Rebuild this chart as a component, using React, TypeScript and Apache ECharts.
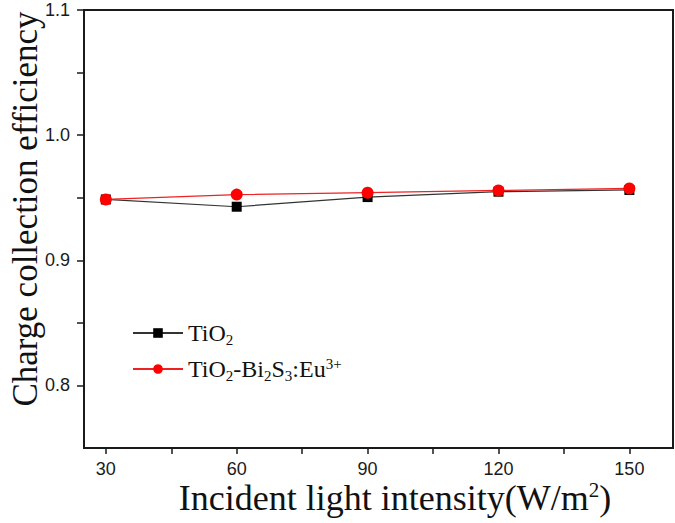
import React, { useEffect, useRef } from "react";
import * as echarts from "echarts";

const intensities = [30, 60, 90, 120, 150];
const tio2 = [0.9486, 0.9428, 0.9505, 0.9548, 0.9562];
const tio2Bi2S3Eu = [0.9486, 0.9525, 0.954, 0.9558, 0.9574];
const xTicks = [30, 45, 60, 75, 90, 105, 120, 135, 150];
const xLabels = [30, 60, 90, 120, 150];
const yTicks = [0.8, 0.85, 0.9, 0.95, 1.0, 1.05, 1.1];
const yLabels = [0.8, 0.9, 1.0, 1.1];

export default function App() {
  const ref = useRef<HTMLDivElement>(null);
  useEffect(() => {
    if (!ref.current) return;
    const chart = echarts.init(ref.current, null, { renderer: "svg" });
    const serif = "Liberation Serif, Times New Roman, serif";
    const sans = "Liberation Sans, Arial, sans-serif";
    const richText = {
      a: { fontFamily: serif, fontSize: 24, color: "#111", lineHeight: 28 },
      s: { fontFamily: serif, fontSize: 15, color: "#111", padding: [13, 0, 0, 0] },
      p: { fontFamily: serif, fontSize: 15, color: "#111", padding: [0, 0, 11, 0] },
    };
    chart.setOption({
      animation: false,
      backgroundColor: "#fff",
      textStyle: { fontFamily: serif },
      grid: {
        left: 84,
        top: 10,
        right: 2,
        bottom: 75,
        show: true,
        borderColor: "#1a1a1a",
        borderWidth: 2,
        backgroundColor: "transparent",
      },
      xAxis: {
        type: "value",
        min: 25,
        max: 160,
        axisLine: { show: true, onZero: false, lineStyle: { color: "#1a1a1a", width: 2 } },
        axisTick: {
          show: true,
          length: 6,
          customValues: xTicks,
          lineStyle: { color: "#1a1a1a", width: 1.5 },
        },
        axisLabel: {
          customValues: xLabels,
          fontFamily: sans,
          fontSize: 18,
          color: "#1a1a1a",
          margin: 12,
        },
        splitLine: { show: false },
      },
      yAxis: {
        type: "value",
        min: 0.75,
        max: 1.1,
        axisLine: { show: true, onZero: false, lineStyle: { color: "#1a1a1a", width: 2 } },
        axisTick: {
          show: true,
          length: 7,
          customValues: yTicks,
          lineStyle: { color: "#1a1a1a", width: 1.5 },
        },
        axisLabel: {
          customValues: yLabels,
          formatter: (v: number) => v.toFixed(1),
          fontFamily: sans,
          fontSize: 18,
          color: "#1a1a1a",
          margin: 14,
        },
        splitLine: { show: false },
      },
      legend: {
        orient: "vertical",
        left: 127,
        top: 316,
        itemWidth: 50,
        itemHeight: 12,
        itemGap: 9,
        data: ["TiO2", "TiO2-Bi2S3:Eu3+"],
        formatter: (name: string) =>
          name === "TiO2"
            ? "{a|TiO}{s|2}"
            : "{a|TiO}{s|2}{a|-Bi}{s|2}{a|S}{s|3}{a|:Eu}{p|3+}",
        textStyle: { fontFamily: serif, fontSize: 24, color: "#111", rich: richText },
      },
      graphic: [
        {
          type: "text",
          x: 25,
          y: 209,
          rotation: Math.PI / 2,
          style: {
            text: "Charge collection efficiency",
            font: "35px Liberation Serif, serif",
            fill: "#111",
            align: "center",
            verticalAlign: "middle",
          },
        },
        {
          type: "text",
          x: 395,
          y: 498,
          style: {
            text: "{t|Incident light intensity(W/m}{u|2}{t|)}",
            align: "center",
            verticalAlign: "middle",
            fontFamily: serif,
            rich: {
              t: { fontFamily: serif, fontSize: 36, fill: "#111" },
              u: { fontFamily: serif, fontSize: 21, fill: "#111", padding: [0, 0, 17, 0] },
            },
          },
        },
      ],
      series: [
        {
          name: "TiO2",
          type: "line",
          data: intensities.map((x, i) => [x, tio2[i]]),
          symbol: "rect",
          symbolSize: 10,
          itemStyle: { color: "#000" },
          lineStyle: { color: "#333", width: 1.2 },
          z: 2,
        },
        {
          name: "TiO2-Bi2S3:Eu3+",
          type: "line",
          data: intensities.map((x, i) => [x, tio2Bi2S3Eu[i]]),
          symbol: "circle",
          symbolSize: 12,
          itemStyle: { color: "#ff0000" },
          lineStyle: { color: "#ee2222", width: 1.2 },
          z: 3,
        },
      ],
    });
    return () => chart.dispose();
  }, []);
  return <div ref={ref} style={{ width: 675, height: 523, position: "absolute", left: 0, top: 0 }} />;
}
